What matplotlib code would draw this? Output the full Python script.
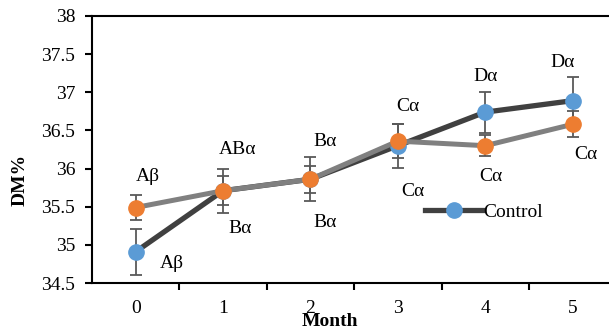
import matplotlib.pyplot as plt

plt.rcParams['font.family'] = ['Liberation Serif', 'DejaVu Serif']

months = [0, 1, 2, 3, 4, 5]
control = [34.91, 35.71, 35.86, 36.30, 36.74, 36.89]
control_err = [0.30, 0.29, 0.29, 0.29, 0.27, 0.31]
treated = [35.49, 35.71, 35.86, 36.36, 36.30, 36.58]
treated_err = [0.17, 0.19, 0.18, 0.22, 0.14, 0.17]

# letter labels (x, y, text)
lbl_x = [0.14, 0.42, 1.17, 1.19, 2.17, 2.17, 3.12, 3.17, 4.0, 4.06, 4.89, 5.15]
lbl_y = [35.89, 34.76, 36.25, 35.22, 36.36, 35.29, 36.82, 35.70, 37.21, 35.89, 37.39, 36.18]
lbl_txt = ['Aβ', 'Aβ', 'ABα', 'Bα', 'Bα', 'Bα', 'Cα', 'Cα', 'Dα', 'Cα', 'Dα', 'Cα']

fig = plt.figure(figsize=(6.09, 3.33), dpi=100)
ax = fig.add_axes([0.151, 0.150, 0.861, 0.802])

ax.errorbar(months, control, yerr=control_err, fmt='none', ecolor='#595959',
            elinewidth=1.3, capsize=4.3, capthick=1.3, zorder=2)
ax.errorbar(months, treated, yerr=treated_err, fmt='none', ecolor='#595959',
            elinewidth=1.3, capsize=4.3, capthick=1.3, zorder=2)
ax.plot(months, control, color='#404040', lw=3.8, marker='o', ms=11,
        mfc='#5B9BD5', mec='#5B9BD5', label='Control', zorder=3)
ax.plot(months, treated, color='#808080', lw=3.6, marker='o', ms=11,
        mfc='#ED7D31', mec='#ED7D31', zorder=4)

for x, y, t in zip(lbl_x, lbl_y, lbl_txt):
    ax.text(x, y, t, fontsize=14, ha='center', va='center')

ax.set_xlim(-0.5, 5.5)
ax.set_ylim(34.5, 38)
ax.set_yticks([34.5, 35, 35.5, 36, 36.5, 37, 37.5, 38])
ax.set_yticklabels(['34.5', '35', '35.5', '36', '36.5', '37', '37.5', '38'])
ax.set_xticks([0.5, 1.5, 2.5, 3.5, 4.5])
ax.set_xticklabels([])
ax.set_xticks(months, minor=True)
ax.set_xticklabels([str(m) for m in months], minor=True)
ax.tick_params(axis='x', which='minor', length=0, pad=12, labelsize=14)
ax.tick_params(axis='x', which='major', length=5, width=1.5, direction='out')
ax.tick_params(axis='y', length=5, width=1.5, pad=7, labelsize=14)
for s in ax.spines.values():
    s.set_linewidth(1.5)

ax.set_ylabel('DM%', fontsize=14, fontweight='bold', va='center', ha='center')
ax.yaxis.set_label_coords(-0.137, 0.387)
ax.set_xlabel('Month', fontsize=14, fontweight='bold', va='center', ha='center')
ax.xaxis.set_label_coords(0.454, -0.145)

ax.legend(loc='center left', bbox_to_anchor=(0.636, 0.267), frameon=False,
          fontsize=14, handlelength=2.9, handletextpad=0.05, borderaxespad=0,
          borderpad=0)

fig.savefig('out.png', dpi=100)
